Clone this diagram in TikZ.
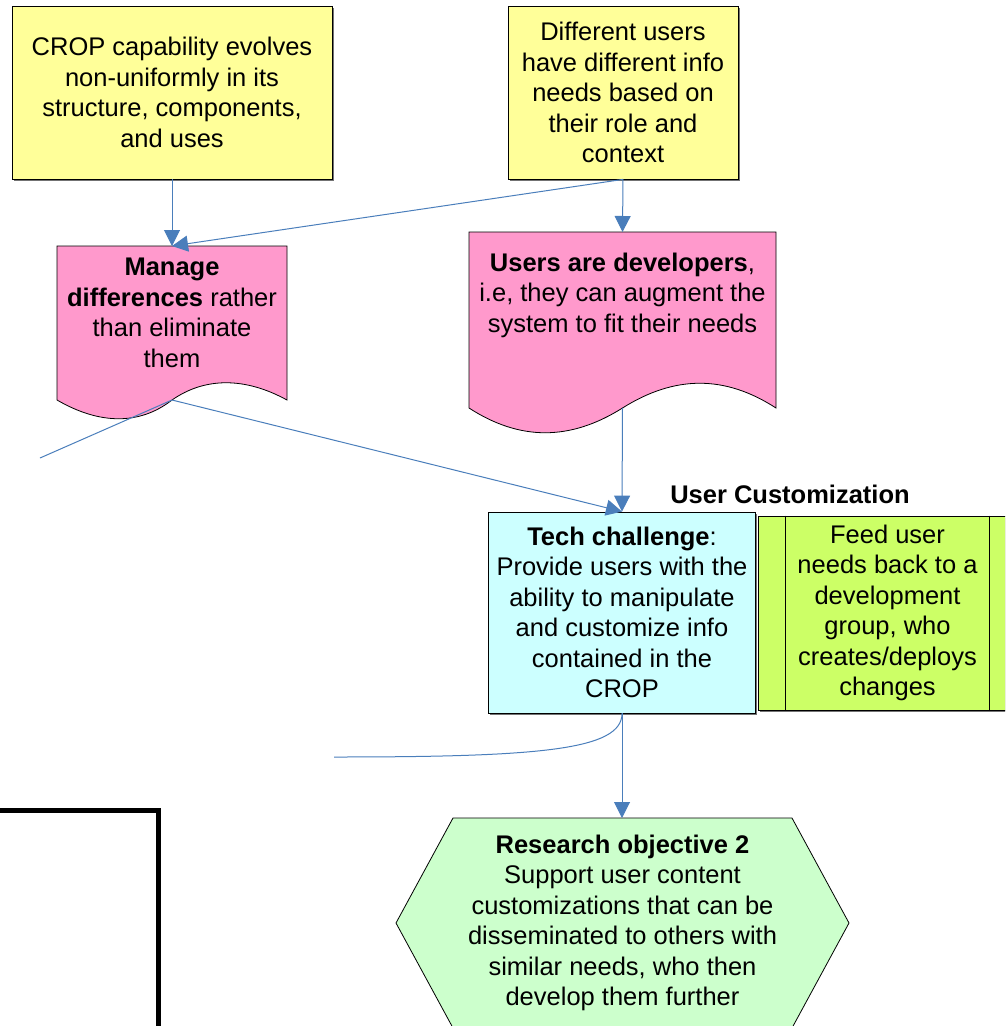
\documentclass[tikz,border=0pt]{standalone}
\usepackage{fontspec}
\setmainfont{Liberation Sans}
\usetikzlibrary{arrows.meta,shadows}
\definecolor{noteyellow}{HTML}{FFFF99}
\definecolor{docpink}{HTML}{FF99CC}
\definecolor{techcyan}{HTML}{CCFFFF}
\definecolor{feedlime}{HTML}{CCFF66}
\definecolor{goalgreen}{HTML}{CCFFCC}
\definecolor{linkblue}{HTML}{4A7EBB}
\begin{document}
\begin{tikzpicture}[x=1pt,y=-1pt,
  every node/.style={font=\fontsize{25.5}{30.5}\selectfont, align=center, inner sep=0pt},
  card/.style={draw=black, line width=0.8pt,
    drop shadow={shadow xshift=1.5pt, shadow yshift=-1.5pt, fill=black!55, opacity=1}},
  docshape/.style={draw=black, line width=0.8pt, fill=docpink},
  link/.style={draw=linkblue, line width=1pt},
  arrowlink/.style={link, -{Triangle[width=16pt,length=16pt]}},
]
\clip (0,0) rectangle (1005,1026);

% top notes
\node[card, fill=noteyellow, minimum width=320pt, minimum height=173pt] (evolve) at (172,92.5)
  {CROP capability evolves\\non-uniformly in its\\structure, components,\\and uses};
\node[card, fill=noteyellow, minimum width=230pt, minimum height=173pt] (roles) at (623,92.5)
  {Different users\\have different info\\needs based on\\their role and\\context};

% document shapes
\path[docshape] (57,246) -- (287,246) -- (287,400)
  .. controls (245,377) and (205,377) .. (172,400)
  .. controls (140,425) and (100,425) .. (57,400) -- cycle;
\coordinate (manageTop) at (172,246);
\coordinate (manageWave) at (172,400);
\node (manage) at (172,313) {\textbf{Manage}\\\textbf{differences} rather\\than eliminate\\them};

\path[docshape] (469,232) -- (776,232) -- (776,408)
  .. controls (725,375) and (675,375) .. (622.5,408)
  .. controls (570,441) and (520,441) .. (469,408) -- cycle;
\coordinate (devTop) at (622.5,232);
\coordinate (devWave) at (622.5,408);
\node (dev) at (622.5,295) {\textbf{Users are developers},\\i.e, they can augment the\\system to fit their needs};

% challenge and customization
\node[card, fill=techcyan, minimum width=267pt, minimum height=201pt] (tech) at (622,612.5)
  {\textbf{Tech challenge}:\\Provide users with the\\ability to manipulate\\and customize info\\contained in the\\CROP};
\node[font=\fontsize{25.5}{30.5}\selectfont\bfseries] (custom) at (790,494) {User Customization};
\node[card, fill=feedlime, minimum width=259pt, minimum height=194pt] (feed) at (887.5,613)
  {Feed user\\needs back to a\\development\\group, who\\creates/deploys\\changes};
\draw[line width=0.8pt] ([xshift=28pt]feed.north west) -- ([xshift=28pt]feed.south west);
\draw[line width=0.8pt] ([xshift=-28pt]feed.north east) -- ([xshift=-28pt]feed.south east);

% research objective hexagon
\path[draw=black, line width=0.8pt, fill=goalgreen]
  (453,818) -- (792,818) -- (849,923) -- (792,1028) -- (453,1028) -- (396,923) -- cycle;
\coordinate (goalTop) at (622,818);
\node (goal) at (622.5,923) {\textbf{Research objective 2}\\Support user content\\customizations that can be\\disseminated to others with\\similar needs, who then\\develop them further};

% frame corner
\draw[line width=5pt] (-5,810) -- (158.5,810) -- (158.5,1035);

% connectors
\coordinate (looseA) at (40,458);
\coordinate (looseB) at (334,757);
\draw[arrowlink] (evolve.south) -- (manageTop);
\draw[arrowlink] (roles.south) -- (manageTop);
\draw[arrowlink] (roles.south) -- (devTop);
\draw[arrowlink] (devWave) -- (tech.north);
\draw[arrowlink] (manageWave) -- (tech.north);
\draw[link] (looseA) -- (manageWave);
\draw[link] (tech.south) .. controls (622,750) and (540,757) .. (looseB);
\draw[arrowlink] (tech.south) -- (goalTop);
\end{tikzpicture}
\end{document}
